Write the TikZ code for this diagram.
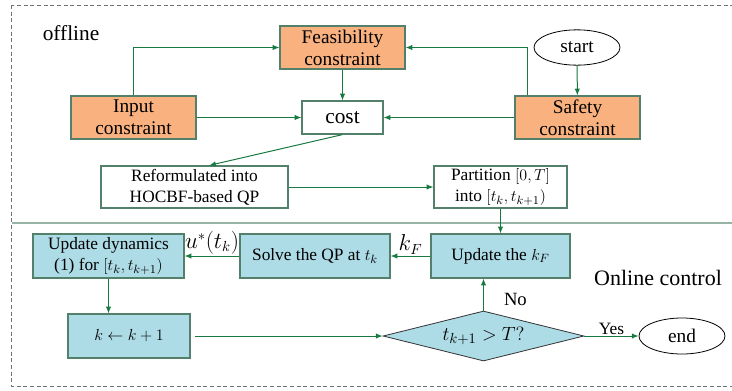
\documentclass[tikz,border=0pt]{standalone}
\usepackage{amsmath}
\usepackage{fontspec}
\setmainfont{Liberation Serif}
\usepackage{xcolor}
\usetikzlibrary{arrows.meta, positioning, shapes.geometric}

\definecolor{boxorange}{HTML}{F8B17F}
\definecolor{boxblue}{HTML}{ADDBE6}
\definecolor{edgegreen}{HTML}{52806A}
\definecolor{arrowgreen}{HTML}{187A42}
\definecolor{framegray}{HTML}{707070}

\tikzset{
  base/.style = {draw=edgegreen, line width=0.9pt, align=center, inner sep=0pt},
  constr/.style = {base, fill=boxorange, minimum width=93.75pt, minimum height=32.25pt,
                   font=\fontsize{14.5}{16.5}\selectfont},
  plain/.style = {base, fill=white, font=\fontsize{13}{15.75}\selectfont},
  online/.style = {base, fill=boxblue, minimum height=33pt, font=\fontsize{13}{15.75}\selectfont},
  term/.style = {draw=black, ellipse, line width=0.6pt, inner sep=0pt, minimum width=64.5pt,
                 minimum height=26.5pt, font=\fontsize{14.5}{16}\selectfont},
  arrow/.style = {draw=arrowgreen, line width=0.75pt, -{Latex[length=5pt, width=4pt]}},
  lbl/.style = {font=\fontsize{14}{16}\selectfont, inner sep=1pt}
}

\begin{document}
\begin{tikzpicture}[x=0.75pt, y=-0.75pt]
    \useasboundingbox (0,0) rectangle (732,390);
    % frame and separator
    \draw[framegray, dash pattern=on 3pt off 2pt, line width=0.7pt] (11,5) rectangle (745,386);
    \draw[edgegreen!60, line width=0.8pt] (12,223) -- (745,223);
    \node (offline) at (71,33) [font=\fontsize{16}{18}\selectfont] {offline};
    \node (onl) at (658,278) [font=\fontsize{16.5}{18}\selectfont] {Online control};

    % offline part
    \node (feas) at (342.5,47.5) [constr] {Feasibility\\constraint};
    \node (input) at (133.5,117.5) [constr] {Input\\constraint};
    \node (safety) at (577.5,117.5) [constr] {Safety\\constraint};
    \node (cost) at (342.5,117.5) [plain, minimum width=60.75pt, minimum height=24.75pt,
        font=\fontsize{16}{18}\selectfont] {cost};
    \node (start) at (577,47.5) [term] {start};
    \node (reform) at (194.5,187) [plain, minimum width=140.25pt, minimum height=31.5pt]
        {Reformulated into\\HOCBF-based QP};
    \node (part) at (500.5,187) [plain, minimum width=99.75pt, minimum height=31.5pt]
        {Partition $[0,T]$\\into $\left[t_k,t_{k+1}\right)$};

    % online part
    \node (upddyn) at (108.5,256) [online, minimum width=113.25pt]
        {Update dynamics\\(1) for $\left[t_k,t_{k+1}\right)$};
    \node (solve) at (315,256) [online, minimum width=112.5pt] {Solve the QP at $t_k$};
    \node (updkf) at (500.5,256) [online, minimum width=104.25pt] {Update the $k_F$};
    \node (kinc) at (129,336) [online, minimum width=91.5pt] {$k \leftarrow k+1$};
    \node (cond) at (483.5,336) [base, diamond, shape aspect=4, fill=boxblue, draw=black!80,
        line width=0.6pt, minimum width=150.75pt, minimum height=37.5pt,
        font=\fontsize{15}{17}\selectfont] {$t_{k+1} > T?$};
    \node (end) at (682,336) [term, minimum height=27pt] {end};

    \path[arrow]
    (input.north) |- (feas.west);
    \path[arrow] ([xshift=9.75pt]safety.north west) |- (feas.east);
    \path[arrow] (start) -- (safety);
    \path[arrow] (feas) -- (cost);
    \path[arrow] (input) -- (cost);
    \path[arrow] (safety) -- (cost);
    \path[arrow] (cost.south) -- ([xshift=11pt]reform.north);
    \path[arrow] (reform) -- (part);
    \path[arrow] (part) -- (updkf);
    \path[arrow] (updkf) -- node[lbl, above, font=\fontsize{16}{18}\selectfont] {$k_F$} (solve);
    \path[arrow] (solve) -- node[lbl, above, font=\fontsize{16}{18}\selectfont] {$u^*(t_k)$} (upddyn);
    \path[arrow] (upddyn.south) -- (upddyn.south |- kinc.north);
    \path[arrow, shorten <=3pt] (kinc) -- (cond);
    \path[arrow] (cond.north) -- node[lbl, pos=0.35, right=14pt] {No} (cond.north |- updkf.south);
    \path[arrow] (cond) -- node[lbl, above, font=\fontsize{13}{15}\selectfont] {Yes} (end);
\end{tikzpicture}
\end{document}
